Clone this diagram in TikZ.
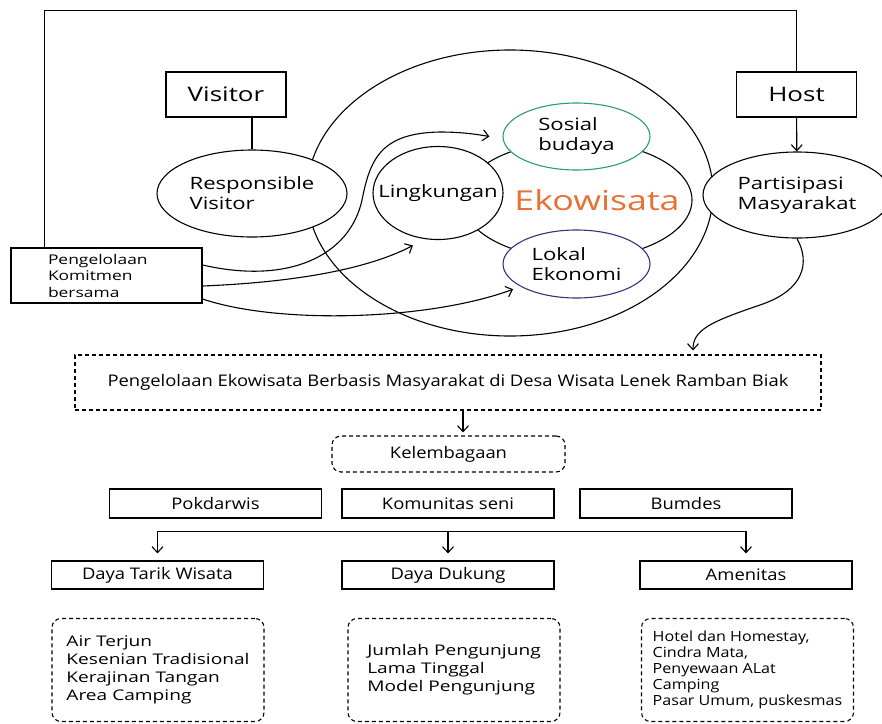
\documentclass[tikz,border=0pt]{standalone}
\usepackage{fontspec}
\setmainfont{Open Sans}
\newfontfamily\widefont[FakeStretch=1.3]{Open Sans}
\newfontfamily\boxfont[FakeStretch=1.15]{Open Sans}
\usetikzlibrary{shapes,arrows.meta,positioning}
\definecolor{ekoorange}{RGB}{232,112,52}
\definecolor{sosialgreen}{RGB}{40,160,110}
\definecolor{lokalblue}{RGB}{50,50,130}

\begin{document}
\begin{tikzpicture}[x=1pt,y=-1pt,line width=1.1pt,node distance=95pt]

\tikzstyle{box} = [rectangle, draw=black, minimum width=212pt, minimum height=29pt, inner sep=0pt, font=\boxfont\fontsize{16}{19}\selectfont]
\tikzstyle{dashbox} = [rectangle, rounded corners=9pt, draw=black, dash pattern=on 4pt off 3pt, inner sep=0pt]
\tikzstyle{listbox} = [dashbox, minimum width=212pt, minimum height=103pt, align=left, font=\widefont\fontsize{14.7}{18}\selectfont]
\tikzstyle{bubble} = [ellipse, draw=black, fill=white, inner sep=0pt, align=left, font=\widefont\fontsize{17}{20}\selectfont]
\tikzstyle{topbox} = [rectangle, draw=black, fill=white, minimum width=120pt, minimum height=45pt, font=\widefont\fontsize{20}{24}\selectfont]
\tikzstyle{arrow} = [-{Straight Barb[length=6pt,width=11pt]}]

\useasboundingbox (0,0) rectangle (882,723);

% ekowisata circles
\node (eko) [ellipse, draw, minimum width=406pt, minimum height=286pt] at (510,193) {};
\node (ring) [ellipse, draw, minimum width=230pt, minimum height=118pt] at (577,200) {};
\node (lingk) [bubble, minimum width=130pt, minimum height=93pt, label={[font=\widefont\fontsize{17}{20}\selectfont]center:Lingkungan}] at (438,193) {};
\node (sosial) [bubble, draw=sosialgreen, minimum width=147pt, minimum height=67pt] at (576.5,136.5) {Sosial\\budaya};
\node (lokal) [bubble, draw=lokalblue, minimum width=147pt, minimum height=68pt] at (576.5,264) {Lokal\\Ekonomi};
\node (ekotext) [text=ekoorange, font=\widefont\fontsize{27.5}{32}\selectfont] at (597,200) {Ekowisata};

% visitor and host
\node (visitor) [topbox] at (226,94.5) {Visitor};
\node (resp) [bubble, minimum width=190pt, minimum height=87pt] at (252,193.5) {Responsible\\Visitor};
\node (host) [topbox] at (796.5,94.5) {Host};
\node (part) [bubble, minimum width=188pt, minimum height=86pt] at (797,195) {Partisipasi\\Masyarakat};
\node (peng) [rectangle, draw, fill=white, minimum width=191pt, minimum height=55pt, text width=117pt, align=left, font=\widefont\fontsize{13.4}{16.5}\selectfont] at (106.5,275.5) {Pengelolaan\\Komitmen\\bersama};

\draw ([xshift=34pt]peng.north west) -- ++(0,-237) -| (host.north);
\draw (resp.north) -- (resp.north |- visitor.south);
\draw [arrow] (host) -- (part);
\draw [arrow] ([yshift=10.5pt]peng.east) .. controls (290,285) and (350,255) .. (362,200) .. controls (370,160) and (380,133) .. (440,132) .. controls (460,132) and (475,134) .. ([xshift=-13pt]sosial.west);
\draw [arrow] ([yshift=-10.5pt]peng.east) .. controls (300,282) and (370,268) .. ([yshift=-9pt]lingk.240);
\draw [arrow] ([yshift=-23.5pt]peng.east) .. controls (280,325) and (430,320) .. ([shift={(-5pt,-4pt)}]lokal.200);

% bottom part
\node (desc) [rectangle, draw, dash pattern=on 4pt off 3pt, minimum width=746pt, minimum height=55pt, font=\boxfont\fontsize{16}{19}\selectfont] at (448,382.5) {Pengelolaan Ekowisata Berbasis Masyarakat di Desa Wisata Lenek Ramban Biak};
\draw [arrow] (part.south) .. controls (810,262) and (805,290) .. (760,305) .. controls (710,322) and (693,330) .. ([xshift=245pt,yshift=4pt]desc.north);

\node (lembaga) [dashbox, minimum width=233pt, minimum height=36pt, font=\boxfont\fontsize{16}{19}\selectfont] at (448.5,454) {Kelembagaan};
\draw [arrow] ([xshift=15pt]desc.south) -- ([xshift=14.5pt,yshift=3pt]lembaga.north);

\node (pokdarwis) [box] at (215.5,503.5) {Pokdarwis};
\node (komunitas) [box] at (448,503.5) {Komunitas seni};
\node (bumdes) [box] at (686,503.5) {Bumdes};

\node (datw) [box, minimum height=28pt] at (157.5,575) {Daya Tarik Wisata};
\node (dd) [box, minimum height=28pt] at (448,575) {Daya Dukung};
\node (amen) [box, minimum height=28pt] at (746,575) {Amenitas};

\draw ([yshift=29pt]datw.north) -- ([yshift=29pt]amen.north);
\foreach \n in {datw,dd,amen}
  \draw [arrow] ([yshift=29pt]\n.north) -- ([yshift=7pt]\n.north);

\node (list1) [listbox, below of=datw, xshift=0.5pt] {Air Terjun\\Kesenian Tradisional\\Kerajinan Tangan\\Area Camping};
\node (list2) [listbox, below of=dd, xshift=6pt] {Jumlah Pengunjung\\Lama Tinggal\\Model Pengunjung};
\node (list3) [listbox, below of=amen, xshift=1.5pt, font=\boxfont\fontsize{14}{16}\selectfont] {Hotel dan Homestay,\\Cindra Mata,\\Penyewaan ALat\\Camping\\Pasar Umum, puskesmas};

\end{tikzpicture}
\end{document}
